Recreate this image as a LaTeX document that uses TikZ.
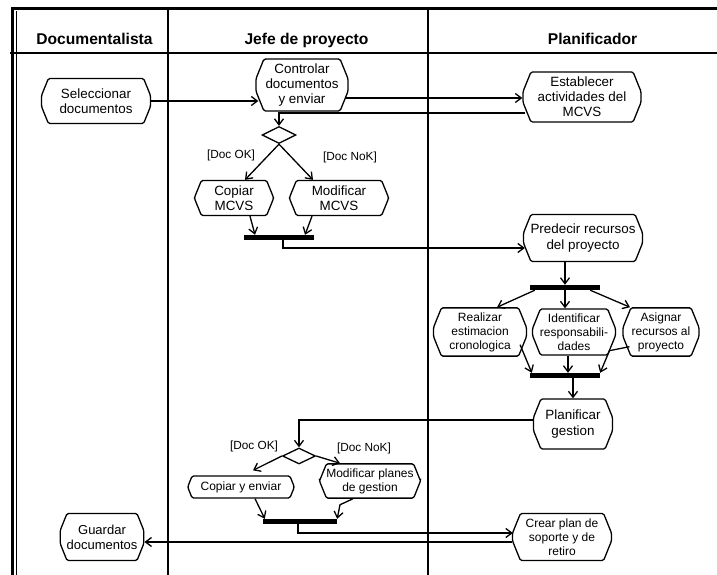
\documentclass[tikz,border=0pt]{standalone}
\usepackage{fontspec}
\setmainfont{Liberation Sans}
\usetikzlibrary{arrows.meta}
\usetikzlibrary{calc}
\usetikzlibrary{shapes.geometric, shapes.misc}

\tikzset{
 act/.style={chamfered rectangle, chamfered rectangle xsep=6.5pt, chamfered rectangle angle=22, rounded corners=1.5pt, draw, line width=1.3pt, align=center, inner sep=1pt, font=\fontsize{13.4}{15.2}\selectfont},
 smallact/.style={act, font=\fontsize{12}{14}\selectfont},
 bar/.style={fill=black, inner sep=0pt, minimum width=70pt, minimum height=5pt},
 choice/.style={diamond, draw, line width=1.3pt, inner sep=0pt, minimum width=34pt, minimum height=17pt},
 guard/.style={inner sep=0pt, font=\fontsize{11.8}{13}\selectfont},
 lane/.style={anchor=base, inner sep=0pt, font=\bfseries\fontsize{15.6}{18}\selectfont},
 flow/.style={-{Straight Barb[length=6pt,width=9pt]}, line width=1.3pt},
}

\begin{document}
\begin{tikzpicture}[x=1pt, y=-1pt]
\useasboundingbox (0,0) rectangle (717,575);

 %swimlanes:
 \draw[line width=3pt] (12,575) -- (12,9) -- (717,9);
 \draw[line width=1.5pt] (16.5,575) -- (16.5,11);
 \draw[line width=1.8pt] (10,53) -- (717,53);
 \draw[line width=1.5pt] (168,9) -- (168,575);
 \draw[line width=1.5pt] (428,9) -- (428,575);
 \node[lane] (hdoc) at (94.5,44.5) {Documentalista};
 \node[lane] (hjefe) at (306.5,44.5) {Jefe de proyecto};
 \node[lane] (hplan) at (592.5,44.5) {Planificador};

 %activities:
 \node[act, minimum width=109pt, minimum height=45pt] (sel) at (96,101) {Seleccionar\\documentos};
 \node[act, minimum width=92pt, minimum height=46pt] (ctrl) at (302,85) {Controlar\\documentos\\y enviar};
 \node[act, minimum width=118pt, minimum height=50pt] (estab) at (582,97) {Establecer\\actividades del\\MCVS};
 \node[choice] (dec1) at (279,135) {};
 \node[act, minimum width=79pt, minimum height=35pt] (copy1) at (234,198) {Copiar\\MCVS};
 \node[act, minimum width=99pt, minimum height=35pt] (mod1) at (339,198) {Modificar\\MCVS};
 \node[bar] (bar1) at (279,237.5) {};
 \node[act, minimum width=116pt, minimum height=47pt] (pred) at (583,238) {Predecir recursos\\del proyecto};
 \node[bar] (bar2) at (565,287.5) {};
 \node[smallact, minimum width=93pt, minimum height=46pt] (real) at (480,332) {Realizar\\estimacion\\cronologica};
 \node[smallact, minimum width=75pt, minimum height=46pt] (iden) at (574,332) {Identificar\\responsabili-\\dades};
 \node[smallact, minimum width=76pt, minimum height=46pt] (asig) at (661,332) {Asignar\\recursos al\\proyecto};
 \node[bar] (bar3) at (565,375.5) {};
 \node[act, minimum width=79pt, minimum height=50pt] (plan) at (573,424) {Planificar\\gestion};
 \node[choice, minimum width=33pt, minimum height=16pt] (dec2) at (299,456) {};
 \node[smallact, minimum width=106pt, minimum height=22pt] (copy2) at (241,487) {Copiar y enviar};
 \node[smallact, minimum width=101pt, minimum height=31pt] (mod2) at (370,481) {Modificar planes\\de gestion};
 \node[bar, minimum width=74pt] (bar4) at (300,521.5) {};
 \node[act, minimum width=80pt, minimum height=47pt, font=\fontsize{13}{15}\selectfont] (guard) at (102,537) {Guardar\\documentos};
 \node[smallact, minimum width=99pt, minimum height=47pt] (crear) at (562,537) {Crear plan de\\soporte y de\\retiro};

 %guards:
 \node[guard] (ok1) at (231,155) {[Doc OK]};
 \node[guard] (nok1) at (350,157) {[Doc NoK]};
 \node[guard] (ok2) at (254,446) {[Doc OK]};
 \node[guard] (nok2) at (364,448) {[Doc NoK]};

 %flows:
 \draw[flow] (sel.east) -- ($(sel.east -| ctrl.west)+(3,0)$);
 \draw[flow] ($(ctrl.east)+(-3,13)$) -- ($(estab.west)+(0,1)$);
 \draw[flow] ($(estab.west)+(3,16)$) -| (dec1.north);
 \draw[flow] (dec1.south) -- ($(copy1.north)+(11,0)$);
 \draw[flow] (dec1.south) -- ($(mod1.north)+(-26,0)$);
 \draw[flow] ($(copy1.south)+(16,0)$) -- ($(bar1.north)+(-24,0)$);
 \draw[flow] ($(mod1.south)+(-27,0)$) -- ($(bar1.north)+(26,0)$);
 \draw[flow] ($(bar1.south)+(4,0)$) |- ($(pred.west)+(2,10)$);
 \draw[flow] (pred.south -| bar2) -- (bar2.north);
 \draw[flow] ($(bar2.south west)+(5,0)$) -- ($(real.north)+(17,0)$);
 \draw[flow] (bar2.south) -- (bar2.south |- iden.north);
 \draw[flow] ($(bar2.south east)+(-10,0)$) -- ($(asig.north)+(-31,0)$);
 \draw[flow] ($(real.south east)+(-3,-2)$) -- ($(bar3.north west)+(2,0)$);
 \draw[flow] ($(iden.south)+(-6,0)$) -- ($(bar3.north)+(3,0)$);
 \draw[flow] ($(asig.south west)+(3,0)$) -- ++(-20,4) -- (bar3.north east);
 \draw[flow] (bar3.south -| plan.north) -- (plan.north);
 \draw[flow] ($(plan.west)+(0,-4)$) -| (dec2.north);
 \draw[flow] (dec2.west) -- ($(copy2.north)+(12,-5)$);
 \draw[flow] (dec2.east) -- ($(mod2.north)+(-30,0)$);
 \draw[flow] ($(copy2.south)+(14,0)$) -- ($(bar4.north west)+(2,0)$);
 \draw[flow] ($(mod2.south)+(-17,0)$) -- ++(-13,6) -- (bar4.north east);
 \draw[flow] ($(bar4.south)+(-2,0)$) |- ($(crear.west)+(1,-4)$);
 \draw[flow] ($(crear.west)+(0,5)$) -- ($(guard.east)+(0,5)$);

\end{tikzpicture}
\end{document}
